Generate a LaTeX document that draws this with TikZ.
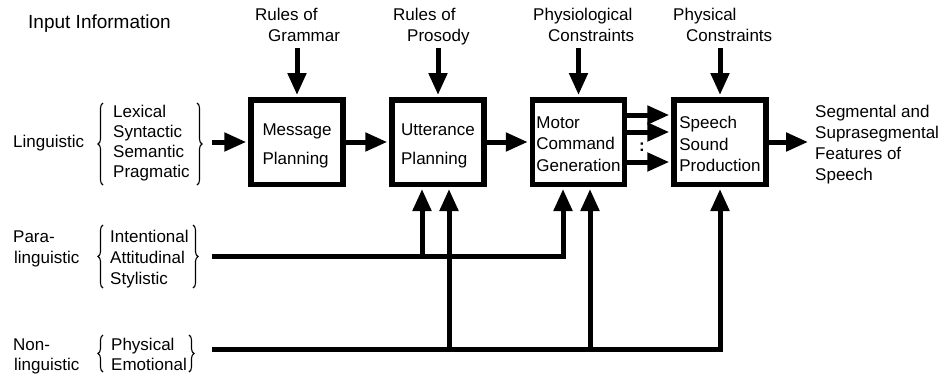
\documentclass[tikz,border=0pt]{standalone}
\usepackage{fontspec}
\setmainfont{Liberation Sans}
\usetikzlibrary{arrows.meta,decorations.pathreplacing}
\begin{document}
\begin{tikzpicture}[x=1pt,y=-1pt,
  txt/.style={font=\fontsize{17}{21}\selectfont, inner sep=0pt, anchor=base west},
  boxn/.style={draw, line width=5.5pt, minimum width=92pt, minimum height=84.5pt, inner sep=0pt},
  boxt/.style={align=left, font=\fontsize{17}{21.5}\selectfont, inner sep=0pt},
  conn/.style={line width=5pt, -{Triangle[length=22pt,width=18pt]}, shorten >=2pt},
  brc/.style={decorate, decoration={brace, amplitude=5pt}, line width=1.1pt}
]
\useasboundingbox (0,0) rectangle (941,375);

% title
\node[anchor=base west, inner sep=0pt, font=\fontsize{19}{23}\selectfont] (title) at (28,28) {Input Information};

% boxes
\node[boxn] (msg) at (297,142) {};
\node[boxn] (utt) at (438,142) {};
\node[boxn] (mot) at (578.5,142) {};
\node[boxn] (spe) at (720,142) {};
\node[boxt] (msgt) at ([yshift=-4pt]msg.center) {Message\\[8pt]Planning};
\node[boxt] (uttt) at ([yshift=-4pt]utt.center) {Utterance\\[8pt]Planning};
\node[boxt] (mott) at ([yshift=-2pt]mot.center) {Motor\\Command\\Generation};
\node[boxt] (spet) at ([yshift=-2pt]spe.center) {Speech\\Sound\\Production};

% top labels
\node[txt] (g1) at (255,20) {Rules of};
\node[txt] (g2) at (268,41) {Grammar};
\node[txt] (p1) at (393,20) {Rules of};
\node[txt] (p2) at (407,41) {Prosody};
\node[txt] (c1) at (533,20) {Physiological};
\node[txt] (c2) at (548,41) {Constraints};
\node[txt] (q1) at (673,20) {Physical};
\node[txt] (q2) at (686,41) {Constraints};

\coordinate (tg) at (297,48);
\coordinate (tp) at (438,48);
\coordinate (tc) at (578.5,48);
\coordinate (tq) at (720,48);
\draw[conn] (tg) -- (msg.north);
\draw[conn] (tp) -- (utt.north);
\draw[conn] (tc) -- (mot.north);
\draw[conn] (tq) -- (spe.north);

% left labels
\node[txt] (lng) at (13,147) {Linguistic};
\node[txt] (l1) at (113,117) {Lexical};
\node[txt] (l2) at (113,137) {Syntactic};
\node[txt] (l3) at (113,157) {Semantic};
\node[txt] (l4) at (113,177) {Pragmatic};
\draw[brc] (103,185) -- (103,103);
\draw[brc] (197,103) -- (197,185);

\node[txt] (pa1) at (13,242) {Para-};
\node[txt] (pa2) at (14,263) {linguistic};
\node[txt] (i1) at (110,242) {Intentional};
\node[txt] (i2) at (110,263) {Attitudinal};
\node[txt] (i3) at (110,284) {Stylistic};
\draw[brc] (103,288) -- (103,225);
\draw[brc] (193,225) -- (193,288);

\node[txt] (no1) at (13,350) {Non-};
\node[txt] (no2) at (14,370) {linguistic};
\node[txt] (e1) at (111,350) {Physical};
\node[txt] (e2) at (111,370) {Emotional};
\draw[brc] (103,372) -- (103,335);
\draw[brc] (189,335) -- (189,372);

% main chain
\coordinate (lin) at (212,142);
\draw[conn] (lin) -- (msg.west);
\draw[conn] (msg.east) -- (utt.west);
\draw[conn] (utt.east) -- (mot.west);

\coordinate (r1) at (0,115);
\coordinate (r2) at (0,132);
\coordinate (r3) at (0,162);
\draw[conn] (mot.east |- r1) -- (spe.west |- r1);
\draw[conn] (mot.east |- r2) -- (spe.west |- r2);
\draw[conn] (mot.east |- r3) -- (spe.west |- r3);
\node[font=\bfseries\fontsize{17}{21}\selectfont, inner sep=0pt, anchor=base] (col) at (642,151) {:};

\coordinate (out) at (808,142);
\draw[conn, shorten >=0pt] (spe.east) -- (out);
\node[txt] (o1) at (815,117) {Segmental and};
\node[txt] (o2) at (815,138) {Suprasegmental};
\node[txt] (o3) at (815,159) {Features of};
\node[txt] (o4) at (815,180) {Speech};

% bottom connectors
\coordinate (par) at (212,256);
\coordinate (non) at (212,349);
\coordinate (xa) at (422,0);
\coordinate (xb) at (449,0);
\coordinate (xc) at (563,0);
\coordinate (xd) at (590,0);
\coordinate (xe) at (720,0);
\draw[conn] (par) -| (mot.south -| xc);
\draw[conn] (par -| xa) -- (utt.south -| xa);
\draw[conn] (non) -| (spe.south -| xe);
\draw[conn] (non -| xb) -- (utt.south -| xb);
\draw[conn] (non -| xd) -- (mot.south -| xd);
\end{tikzpicture}
\end{document}
